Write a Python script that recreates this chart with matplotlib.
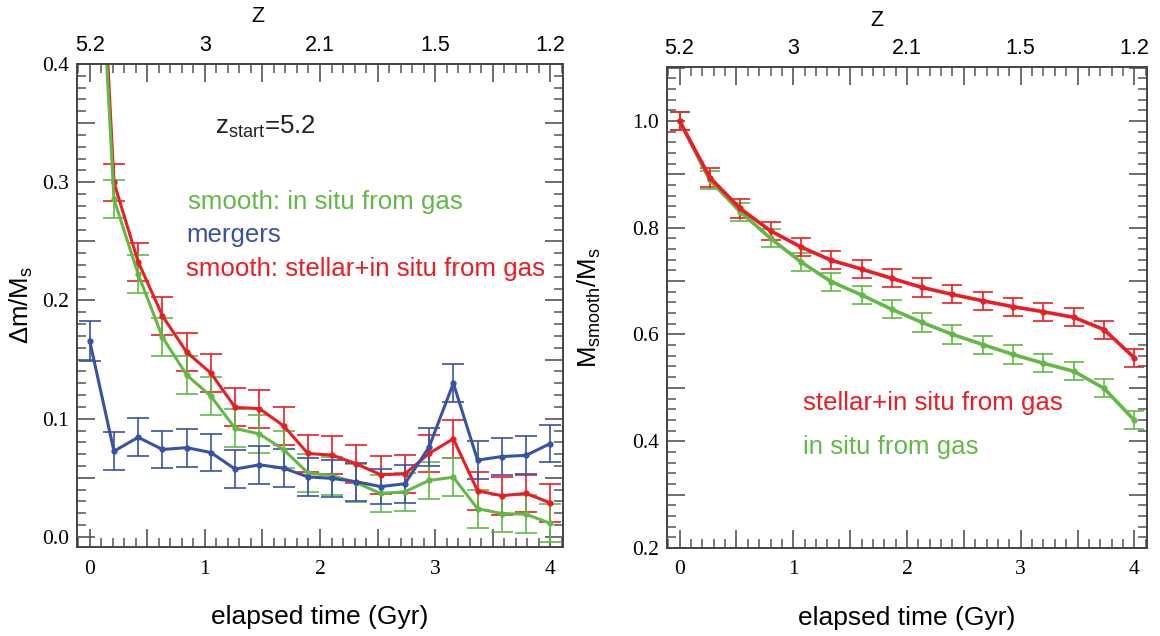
import numpy as np
import matplotlib
matplotlib.use('Agg')
import matplotlib.pyplot as plt
from matplotlib.ticker import MultipleLocator, FuncFormatter

plt.rcParams['font.family'] = ['Liberation Sans', 'DejaVu Sans']
plt.rcParams['mathtext.fontset'] = 'custom'
plt.rcParams['mathtext.rm'] = 'Liberation Sans'
plt.rcParams['mathtext.it'] = 'Liberation Sans:italic'

# colores
GREEN = '#62b946'
BLUE = '#3953a4'
RED = '#ec1c24'

# --- datos panel izquierdo (Delta m / Ms) ---
t_left = [0.0, 0.211, 0.421, 0.632, 0.842, 1.053, 1.263, 1.474, 1.684, 1.895,
          2.105, 2.316, 2.526, 2.737, 2.947, 3.158, 3.368, 3.579, 3.789, 4.0]
mergers = [0.166, 0.0725, 0.0843, 0.074, 0.0755, 0.0714, 0.0574, 0.061, 0.0582, 0.0508,
           0.0495, 0.0467, 0.0426, 0.045, 0.076, 0.130, 0.065, 0.068, 0.069, 0.079]
mergers_err = [0.017, 0.016, 0.016, 0.016, 0.016, 0.016, 0.016, 0.016, 0.016, 0.016,
               0.016, 0.016, 0.015, 0.016, 0.016, 0.016, 0.016, 0.016, 0.016, 0.016]
insitu = [0.67, 0.2857, 0.2223, 0.169, 0.137, 0.119, 0.0918, 0.0871, 0.0739, 0.0541,
          0.0519, 0.0459, 0.0368, 0.0382, 0.0478, 0.0505, 0.0239, 0.0198, 0.0192, 0.0115]
insitu_err = [0.016] * 20
stellar = [0.70, 0.2998, 0.2327, 0.187, 0.1563, 0.1385, 0.1096, 0.1085, 0.094, 0.0706,
           0.0692, 0.0618, 0.0527, 0.0533, 0.0706, 0.083, 0.039, 0.0349, 0.0368, 0.0288]
stellar_err = [0.016] * 20

# --- datos panel derecho (M_smooth / Ms) ---
t_right = [0.0, 0.267, 0.533, 0.8, 1.067, 1.333, 1.6, 1.867, 2.133, 2.4,
           2.667, 2.933, 3.2, 3.467, 3.733, 4.0]
stellar_r = [1.0, 0.894, 0.836, 0.794, 0.764, 0.739, 0.7225, 0.705, 0.688, 0.675,
             0.663, 0.652, 0.6425, 0.632, 0.609, 0.556]
insitu_r = [1.0, 0.889, 0.83, 0.78, 0.736, 0.699, 0.674, 0.647, 0.6225, 0.60,
            0.581, 0.5625, 0.546, 0.531, 0.499, 0.439]
err_r = [0.017] * 16

# eje superior: redshift
z_pos = [0, 1, 2, 3, 4]
z_labels = ['5.2', '3', '2.1', '1.5', '1.2']

W, H = 1160, 636
fig = plt.figure(figsize=(W / 100, H / 100), dpi=100, facecolor='w')
ax1 = fig.add_axes([77 / W, 1 - 547 / H, 486 / W, 483 / H])
ax2 = fig.add_axes([667 / W, 1 - 548 / H, 480 / W, 481 / H])


def style_axis(ax, ymaj, ymin, ylabstep):
    for s in ax.spines.values():
        s.set_color('#444444')
        s.set_linewidth(1.4)
    ax.xaxis.set_major_locator(MultipleLocator(0.5))
    ax.xaxis.set_minor_locator(MultipleLocator(0.1))
    ax.yaxis.set_major_locator(MultipleLocator(ymaj))
    ax.yaxis.set_minor_locator(MultipleLocator(ymin))
    ax.xaxis.set_major_formatter(FuncFormatter(
        lambda v, p: '%d' % round(v) if abs(v - round(v)) < 1e-6 else ''))
    ax.yaxis.set_major_formatter(FuncFormatter(
        lambda v, p: '%.1f' % v if abs(v / ylabstep - round(v / ylabstep)) < 1e-6 else ''))
    ax.tick_params(which='both', direction='in', top=True, right=True, color='#555555')
    ax.tick_params(which='major', length=13, width=1.2, pad=9, labelsize=15.5)
    ax.tick_params(which='minor', length=6.5, width=1.1)
    ax.tick_params(axis='y', which='major', pad=6)
    for lab in ax.get_xticklabels() + ax.get_yticklabels():
        lab.set_family('Liberation Serif')
    ax.set_xlim(-0.11, 4.11)
    # eje Z arriba
    sec = ax.secondary_xaxis('top')
    sec.set_xticks(z_pos, labels=z_labels)
    sec.tick_params(length=0, pad=6, labelsize=15.5)
    sec.spines['top'].set_visible(False)
    ax.set_xlabel('elapsed time (Gyr)', fontsize=19)
    ax.xaxis.set_label_coords(0.5, -0.12)


ekw = dict(elinewidth=1.2, capsize=8, capthick=1.2, lw=2.2, marker='o', ms=3.5)

# panel izquierdo
ax1.errorbar(t_left, stellar, yerr=stellar_err, color=RED, ecolor=RED, **ekw)
ax1.errorbar(t_left, insitu, yerr=insitu_err, color=GREEN, ecolor=GREEN, **ekw)
ax1.errorbar(t_left, mergers, yerr=mergers_err, color=BLUE, ecolor=BLUE, **ekw)
ax1.set_ylim(-0.0085, 0.4)
style_axis(ax1, 0.05, 0.01, 0.1)
ax1.set_ylabel('Δm/M$_\\mathrm{s}$', fontsize=18.5)
ax1.yaxis.set_label_coords(-0.086, 0.5)

ax1.text(1.087, 0.347, 'z$_\\mathrm{start}$=5.2', fontsize=18.6, color='#222222', va='center')
ax1.text(0.85, 0.283, 'smooth: in situ from gas', fontsize=18.6, color=GREEN, va='center')
ax1.text(0.835, 0.255, 'mergers', fontsize=18.6, color=BLUE, va='center')
ax1.text(0.835, 0.227, 'smooth: stellar+in situ from gas', fontsize=18.6, color=RED, va='center')

# panel derecho
ekw2 = dict(elinewidth=1.2, capsize=7, capthick=1.2, lw=2.6, marker='o', ms=3.5)
ax2.errorbar(t_right, insitu_r, yerr=err_r, color=GREEN, ecolor=GREEN, **ekw2)
ax2.errorbar(t_right, stellar_r, yerr=err_r, color=RED, ecolor=RED, **ekw2)
ax2.set_ylim(0.2, 1.101)
style_axis(ax2, 0.1, 0.02, 0.2)
ax2.set_ylabel('M$_\\mathrm{smooth}$/M$_\\mathrm{s}$', fontsize=18.5)
ax2.yaxis.set_label_coords(-0.133, 0.5)

ax2.text(1.083, 0.472, 'stellar+in situ from gas', fontsize=18.6, color=RED, va='center')
ax2.text(1.083, 0.389, 'in situ from gas', fontsize=18.6, color=GREEN, va='center')

fig.text(258 / W, 1 - 16 / H, 'Z', fontsize=15.5, ha='center', va='center')
fig.text(877 / W, 1 - 20 / H, 'Z', fontsize=15.5, ha='center', va='center')

fig.savefig('out.png', dpi=100)
